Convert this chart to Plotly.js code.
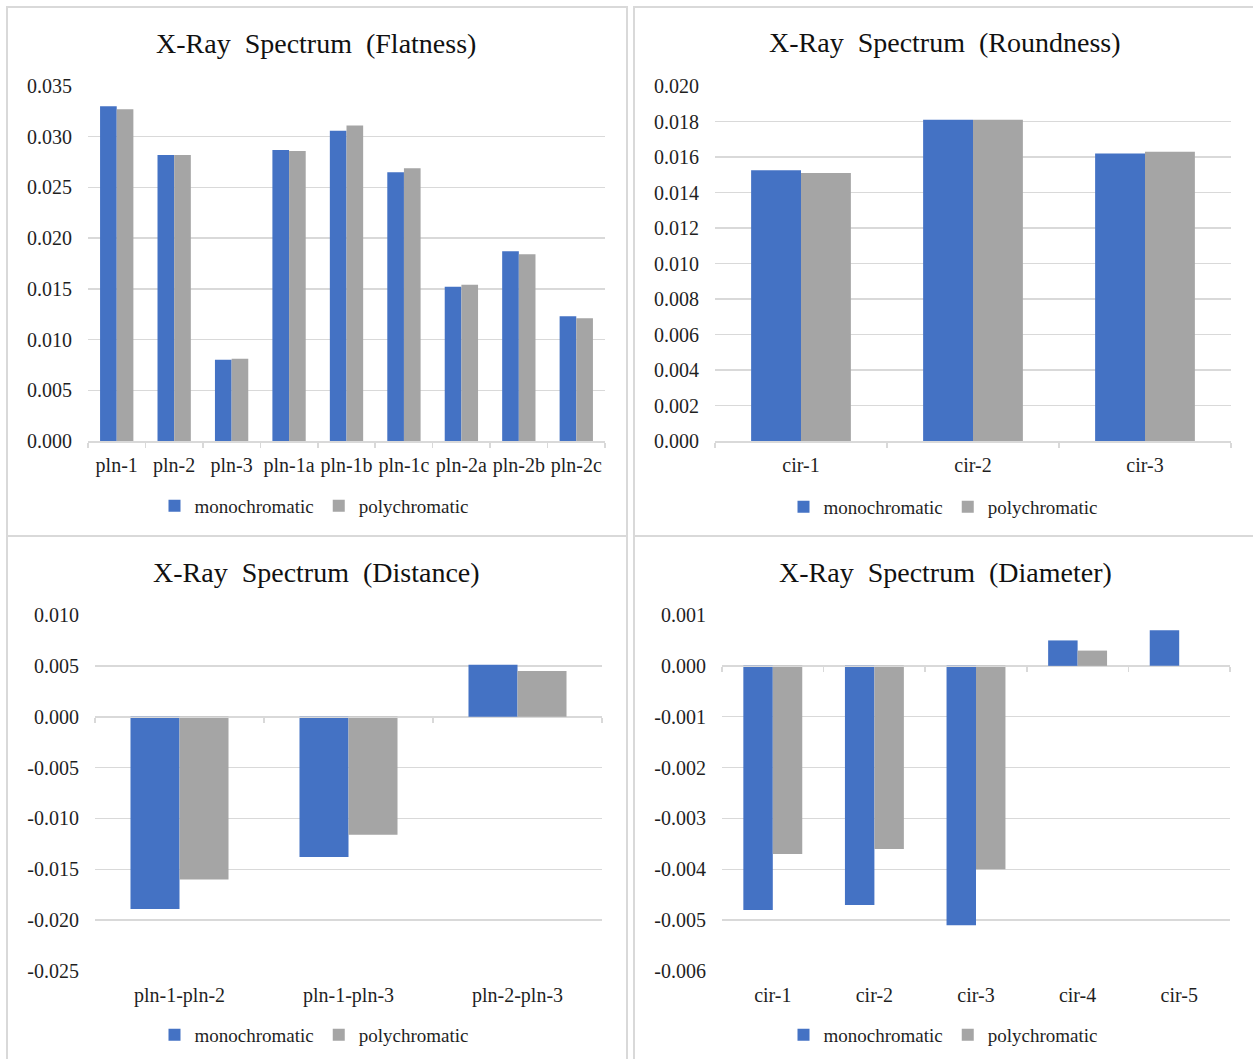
<!DOCTYPE html>
<html>
<head>
<meta charset="utf-8">
<script src="https://cdn.plot.ly/plotly-3.0.1.min.js"></script>
<style>
  html, body { margin: 0; padding: 0; background: #ffffff; }
  #chart { width: 1253px; height: 1059px; }
</style>
</head>
<body>
<div id="chart"></div>
<script>
// ---------- data ----------
const seriesNames = ['monochromatic', 'polychromatic'];

const flatCats = ['pln-1', 'pln-2', 'pln-3', 'pln-1a', 'pln-1b', 'pln-1c', 'pln-2a', 'pln-2b', 'pln-2c'];
const flatMono = [0.0330, 0.0282, 0.0080, 0.0287, 0.0306, 0.0265, 0.0152, 0.0187, 0.0123];
const flatPoly = [0.0327, 0.0282, 0.0081, 0.0286, 0.0311, 0.0269, 0.0154, 0.0184, 0.0121];
const flatTicks = [0, 0.005, 0.010, 0.015, 0.020, 0.025, 0.030, 0.035];

const roundCats = ['cir-1', 'cir-2', 'cir-3'];
const roundMono = [0.01525, 0.0181, 0.0162];
const roundPoly = [0.0151, 0.0181, 0.0163];
const roundTicks = [0, 0.002, 0.004, 0.006, 0.008, 0.010, 0.012, 0.014, 0.016, 0.018, 0.020];

const distCats = ['pln-1-pln-2', 'pln-1-pln-3', 'pln-2-pln-3'];
const distMono = [-0.0189, -0.0138, 0.0051];
const distPoly = [-0.0160, -0.0116, 0.0045];
const distTicks = [-0.025, -0.020, -0.015, -0.010, -0.005, 0, 0.005, 0.010];

const diamCats = ['cir-1', 'cir-2', 'cir-3', 'cir-4', 'cir-5'];
const diamMono = [-0.0048, -0.0047, -0.0051, 0.0005, 0.0007];
const diamPoly = [-0.0037, -0.0036, -0.0040, 0.0003, null];
const diamTicks = [-0.006, -0.005, -0.004, -0.003, -0.002, -0.001, 0, 0.001];

const titles = [
  'X-Ray\u00a0 Spectrum\u00a0 (Flatness)',
  'X-Ray\u00a0 Spectrum\u00a0 (Roundness)',
  'X-Ray\u00a0 Spectrum\u00a0 (Distance)',
  'X-Ray\u00a0 Spectrum\u00a0 (Diameter)'
];

// ---------- style / layout geometry ----------
const W = 1253, H = 1059;
const BLUE = '#4472C4', GRAY = '#A5A5A5';
const GRID = '#d9d9d9';
const FONT = 'Liberation Serif, Times New Roman, serif';
const TXT = '#1f1f1f';

const px = x => x / W;
const py = y => 1 - y / H;

const panels = [
  { cats: flatCats, mono: flatMono, poly: flatPoly, ticks: flatTicks,
    xd: [88, 605], yd: [86, 441], title: titles[0], tpos: [316, 43], lpos: [314, 506] },
  { cats: roundCats, mono: roundMono, poly: roundPoly, ticks: roundTicks,
    xd: [715, 1231], yd: [86, 441], title: titles[1], tpos: [945, 42], lpos: [943, 507] },
  { cats: distCats, mono: distMono, poly: distPoly, ticks: distTicks,
    xd: [95, 602], yd: [615, 971], title: titles[2], tpos: [316, 572], lpos: [314, 1035] },
  { cats: diamCats, mono: diamMono, poly: diamPoly, ticks: diamTicks,
    xd: [722, 1230], yd: [615, 971], title: titles[3], tpos: [945, 572], lpos: [943, 1035] }
];

const data = [];
const layout = {
  width: W, height: H,
  margin: { l: 0, r: 0, t: 0, b: 0 },
  paper_bgcolor: '#ffffff', plot_bgcolor: 'rgba(0,0,0,0)',
  font: { family: FONT, color: TXT, size: 20 },
  barmode: 'group', bargap: 0.42, bargroupgap: 0,
  showlegend: true,
  annotations: [], shapes: []
};

// panel frames (decoration)
const frames = [[7, 7, 627, 536], [634, 7, 1262, 536], [7, 536, 627, 1066], [634, 536, 1262, 1066]];
frames.forEach(f => layout.shapes.push({
  type: 'rect', xref: 'paper', yref: 'paper',
  x0: px(f[0]), x1: px(f[2]), y0: py(f[3]), y1: py(f[1]),
  line: { color: GRID, width: 2 }, fillcolor: 'rgba(0,0,0,0)', layer: 'below'
}));

panels.forEach((p, i) => {
  const n = i + 1;
  const xa = n === 1 ? 'x' : 'x' + n;
  const ya = n === 1 ? 'y' : 'y' + n;
  const xk = n === 1 ? 'xaxis' : 'xaxis' + n;
  const yk = n === 1 ? 'yaxis' : 'yaxis' + n;
  const lg = n === 1 ? 'legend' : 'legend' + n;
  const ymin = Math.min(...p.ticks), ymax = Math.max(...p.ticks);

  data.push({ type: 'bar', name: seriesNames[0], x: p.cats, y: p.mono,
    marker: { color: BLUE, line: { width: 0 } }, xaxis: xa, yaxis: ya, legend: lg });
  data.push({ type: 'bar', name: seriesNames[1], x: p.cats, y: p.poly,
    marker: { color: GRAY, line: { width: 0 } }, xaxis: xa, yaxis: ya, legend: lg });

  const xdom = [px(p.xd[0]), px(p.xd[1])];
  const ydom = [py(p.yd[1]), py(p.yd[0])];

  layout[xk] = {
    domain: xdom, anchor: ya, type: 'category',
    categoryorder: 'array', categoryarray: p.cats,
    range: [-0.5, p.cats.length - 0.5],
    showline: false, showgrid: false, zeroline: false, ticks: '',
    tickfont: { family: FONT, size: 20, color: TXT },
    ticklabelstandoff: 10, fixedrange: true
  };
  layout[yk] = {
    domain: ydom, anchor: xa, range: [ymin, ymax],
    tickvals: p.ticks, ticktext: p.ticks.map(v => v.toFixed(3)),
    showgrid: true, gridcolor: GRID, gridwidth: 1.5,
    zeroline: false, showline: false, ticks: '',
    tickfont: { family: FONT, size: 20, color: TXT },
    ticklabelstandoff: 15, fixedrange: true
  };

  // category axis line at value 0 with boundary tick marks
  const zeroPos = ydom[0] + (0 - ymin) / (ymax - ymin) * (ydom[1] - ydom[0]);
  const bnds = [];
  for (let k = 0; k <= p.cats.length; k++) bnds.push(k - 0.5);
  const ox = 'xaxis' + (n + 4);
  layout[ox] = {
    domain: xdom, overlaying: xa, anchor: 'free', position: zeroPos,
    range: [-0.5, p.cats.length - 0.5], tickvals: bnds,
    showline: true, linecolor: GRID, linewidth: 1.5,
    ticks: 'outside', ticklen: 5, tickwidth: 1.5, tickcolor: GRID,
    showticklabels: false, showgrid: false, zeroline: false, fixedrange: true
  };
  // invisible helper so the overlay axis is drawn
  data.push({ type: 'scatter', mode: 'markers', x: [], y: [], xaxis: 'x' + (n + 4), yaxis: ya,
    showlegend: false, hoverinfo: 'skip' });

  layout[lg] = {
    orientation: 'h', x: px(p.lpos[0]), y: py(p.lpos[1]),
    xanchor: 'center', yanchor: 'middle',
    font: { family: FONT, size: 19, color: TXT },
    itemwidth: 30, tracegroupgap: 0, bgcolor: 'rgba(0,0,0,0)'
  };

  layout.annotations.push({
    xref: 'paper', yref: 'paper', x: px(p.tpos[0]), y: py(p.tpos[1]),
    xanchor: 'center', yanchor: 'middle', showarrow: false,
    text: p.title, font: { family: FONT, size: 28, color: '#111111' }
  });
});

Plotly.newPlot('chart', data, layout, { staticPlot: true, displayModeBar: false });
</script>
</body>
</html>
